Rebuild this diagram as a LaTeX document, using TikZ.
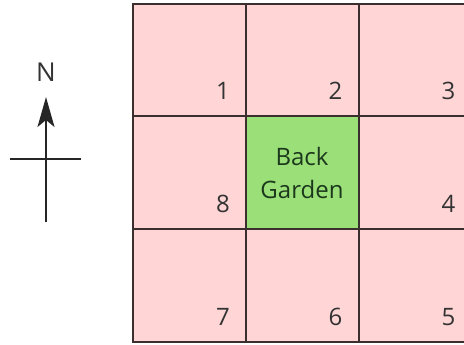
\documentclass[tikz,border=0pt]{standalone}
\usepackage{fontspec}
\setmainfont{Open Sans}
\usetikzlibrary{arrows.meta}
\definecolor{cellpink}{HTML}{FFD5D6}
\definecolor{cellgreen}{HTML}{9ADF78}
\definecolor{gridline}{HTML}{3A2E2E}
\definecolor{numtext}{HTML}{333333}
\definecolor{gardentext}{HTML}{1C381C}
\tikzset{
  cell/.style={draw=gridline, line width=2pt, fill=cellpink, minimum width=113pt, minimum height=112.5pt, inner sep=0pt, outer sep=0pt, anchor=north west},
  garden/.style={cell, fill=cellgreen, font=\fontsize{24}{33}\selectfont, text=gardentext, align=center},
  num/.style={font=\fontsize{24}{28}\selectfont, text=numtext, inner sep=0pt, anchor=base},
  compass/.style={line width=1.6pt, draw=black!85},
}
\begin{document}
\begin{tikzpicture}[x=1pt,y=-1pt]
\useasboundingbox (0,0) rectangle (464,345);
\clip (0,0) rectangle (464,345);
% grid cells
\node[cell] (c1) at (133,4.5) {};
\node[cell] (c2) at (245.5,4.5) {};
\node[cell] (c3) at (358.5,4.5) {};
\node[cell] (c8) at (133,116.5) {};
\node[garden] (cg) at (245.5,116.5) {Back\\Garden};
\node[cell] (c4) at (358.5,116.5) {};
\node[cell] (c7) at (133,229) {};
\node[cell] (c6) at (245.5,229) {};
\node[cell] (c5) at (358.5,229) {};
% numbers
\node[num] (n1) at ([xshift=-23pt,yshift=17pt]c1.south east) {1};
\node[num] (n2) at ([xshift=-23pt,yshift=17pt]c2.south east) {2};
\node[num] (n3) at ([xshift=-23pt,yshift=17pt]c3.south east) {3};
\node[num] (n8) at ([xshift=-23pt,yshift=17pt]c8.south east) {8};
\node[num] (n4) at ([xshift=-23pt,yshift=17pt]c4.south east) {4};
\node[num] (n7) at ([xshift=-23pt,yshift=16pt]c7.south east) {7};
\node[num] (n6) at ([xshift=-23pt,yshift=16pt]c6.south east) {6};
\node[num] (n5) at ([xshift=-23pt,yshift=16pt]c5.south east) {5};
% compass
\node[font=\fontsize{26}{28}\selectfont, text=numtext, inner sep=0pt] (N) at (46,72) {N};
\coordinate (tip) at (46,97);
\coordinate (tail) at (46,222);
\coordinate (west) at (10,159);
\coordinate (east) at (81,159);
\draw[compass, -{Stealth[length=30pt,width=17pt,inset=7pt]}] (tail) -- (tip);
\draw[compass] (west) -- (east);
\end{tikzpicture}
\end{document}
